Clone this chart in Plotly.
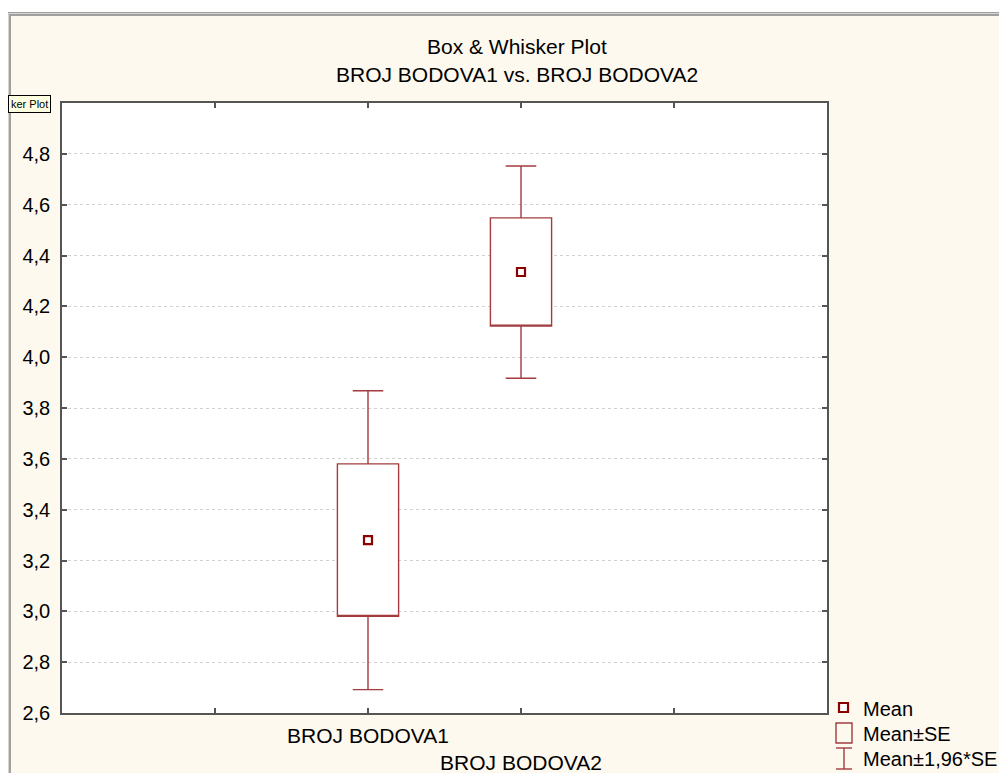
import plotly.graph_objects as go

# ---- data ----
categories = ["BROJ BODOVA1", "BROJ BODOVA2"]
cat_pos = [2, 3]
means = [3.28, 4.335]
se_low = [2.98, 4.122]
se_high = [3.58, 4.548]
ci_low = [2.692, 3.917]
ci_high = [3.868, 4.752]
y_ticks = [2.6, 2.8, 3.0, 3.2, 3.4, 3.6, 3.8, 4.0, 4.2, 4.4, 4.6, 4.8]
x_ticks = [1, 2, 3, 4]
x_ticktext = ["", categories[0], "<br>" + categories[1], ""]

# page body has an 8px default margin -> shrink figure and work in reference pixels
OFF = 8
W, H = 1007 - OFF, 773 - OFF
L, R, T, B = 62 - OFF, 827 - OFF, 103 - OFF, 713 - OFF
BOX_COL = "#a33b3f"
MEAN_COL = "#8b0000"
CREAM = "#fef9ee"
FONT = "Liberation Sans, Arial, sans-serif"


def px(x):  # reference pixel x -> paper
    return (x - OFF - L) / (R - L)


def py(y):  # reference pixel y -> paper
    return (B - (y - OFF)) / (B - T)


fig = go.Figure()
fig.add_trace(go.Box(
    x=cat_pos, q1=se_low, median=se_low, q3=se_high,
    lowerfence=ci_low, upperfence=ci_high,
    width=0.4, whiskerwidth=0.5, boxpoints=False,
    fillcolor="white", line=dict(color=BOX_COL, width=1.4),
    showlegend=False, hoverinfo="skip",
))
fig.add_trace(go.Scatter(
    x=cat_pos, y=means, mode="markers",
    marker=dict(symbol="square", size=8, color="white",
                line=dict(color=MEAN_COL, width=2.2)),
    showlegend=False, hoverinfo="skip",
))

shapes = []
# white strip on top + window frame
shapes.append(dict(type="rect", xref="paper", yref="paper", x0=px(0), x1=px(1010), y0=py(12), y1=py(0),
                   fillcolor="white", line=dict(width=0), layer="below"))
shapes.append(dict(type="rect", xref="paper", yref="paper", x0=px(7), x1=px(1010), y0=py(16), y1=py(12),
                   fillcolor="#a0a0a0", line=dict(width=0), layer="below"))
shapes.append(dict(type="rect", xref="paper", yref="paper", x0=px(7), x1=px(11), y0=py(776), y1=py(12),
                   fillcolor="#a0a0a0", line=dict(width=0), layer="below"))
shapes.append(dict(type="line", xref="paper", yref="paper", x0=px(8.5), x1=px(8.5), y0=py(776), y1=py(14),
                   line=dict(color="#d8d6cf", width=1), layer="below"))
shapes.append(dict(type="line", xref="paper", yref="paper", x0=px(8.5), x1=px(1010), y0=py(13.5), y1=py(13.5),
                   line=dict(color="#d8d6cf", width=1), layer="below"))

# legend symbols
shapes.append(dict(type="rect", xref="paper", yref="paper", x0=px(839), x1=px(848), y0=py(712), y1=py(703),
                   fillcolor="white", line=dict(color=MEAN_COL, width=2.2)))
shapes.append(dict(type="rect", xref="paper", yref="paper", x0=px(836), x1=px(852), y0=py(743), y1=py(723),
                   fillcolor="rgba(0,0,0,0)", line=dict(color=BOX_COL, width=1.4)))
shapes.append(dict(type="line", xref="paper", yref="paper", x0=px(836), x1=px(852), y0=py(748), y1=py(748),
                   line=dict(color=BOX_COL, width=1.4)))
shapes.append(dict(type="line", xref="paper", yref="paper", x0=px(836), x1=px(852), y0=py(769), y1=py(769),
                   line=dict(color=BOX_COL, width=1.4)))
shapes.append(dict(type="line", xref="paper", yref="paper", x0=px(844), x1=px(844), y0=py(769), y1=py(748),
                   line=dict(color=BOX_COL, width=1.4)))

annotations = [
    dict(text="Box & Whisker Plot", xref="paper", yref="paper", x=px(517), y=py(46),
         xanchor="center", yanchor="middle", showarrow=False, font=dict(size=21, color="black", family=FONT)),
    dict(text="BROJ BODOVA1 vs. BROJ BODOVA2", xref="paper", yref="paper", x=px(517), y=py(75),
         xanchor="center", yanchor="middle", showarrow=False, font=dict(size=21, color="black", family=FONT)),
    dict(text="ker Plot", xref="paper", yref="paper", x=px(8), y=py(104),
         xanchor="left", yanchor="middle", showarrow=False, font=dict(size=11, color="black", family=FONT),
         bgcolor="#ffffe1", bordercolor="black", borderwidth=1, borderpad=2),
    dict(text="Mean", xref="paper", yref="paper", x=px(861), y=py(709),
         xanchor="left", yanchor="middle", showarrow=False, font=dict(size=20, color="black", family=FONT)),
    dict(text="Mean±SE", xref="paper", yref="paper", x=px(861), y=py(734),
         xanchor="left", yanchor="middle", showarrow=False, font=dict(size=20, color="black", family=FONT)),
    dict(text="Mean±1,96*SE", xref="paper", yref="paper", x=px(861), y=py(759),
         xanchor="left", yanchor="middle", showarrow=False, font=dict(size=20, color="black", family=FONT)),
]

fig.update_layout(
    width=W, height=H,
    margin=dict(l=L, r=W - R, t=T, b=H - B, pad=0, autoexpand=False),
    paper_bgcolor=CREAM, plot_bgcolor="white",
    font=dict(family=FONT, color="black"),
    shapes=shapes, annotations=annotations,
    separators=",.",
    showlegend=False,
)
fig.update_xaxes(
    range=[0, 5], tickmode="array", tickvals=x_ticks, ticktext=x_ticktext,
    tickangle=0, automargin=False,
    showgrid=False, zeroline=False,
    showline=True, linecolor="#555555", linewidth=1.5, mirror="allticks",
    ticks="inside", ticklen=5, tickcolor="#555555", tickwidth=1.5,
    ticklabelstandoff=3,
    tickfont=dict(size=21, color="black", family=FONT),
)
fig.update_yaxes(
    range=[2.6, 5.0], tickmode="array", tickvals=y_ticks, tickformat=".1f",
    automargin=False,
    showgrid=True, gridcolor="#d2d2d2", griddash="dot", gridwidth=1, zeroline=False,
    showline=True, linecolor="#555555", linewidth=1.5, mirror="allticks",
    ticks="inside", ticklen=5, tickcolor="#555555", tickwidth=1.5,
    ticklabelstandoff=6,
    tickfont=dict(size=20, color="black", family=FONT),
)

fig.write_html("out.html")
